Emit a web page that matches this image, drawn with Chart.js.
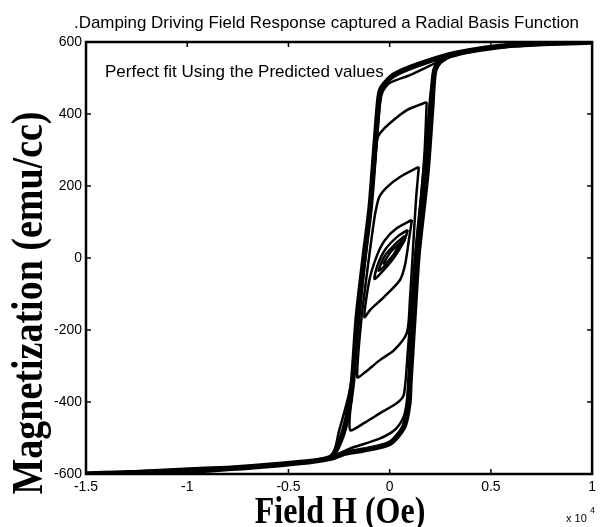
<!DOCTYPE html>
<html>
<head>
<meta charset="utf-8">
<script src="https://cdn.jsdelivr.net/npm/chart.js@4.4.1/dist/chart.umd.min.js"></script>
<style>
  html, body { margin: 0; padding: 0; background: #fff; }
  canvas { display: block; }
</style>
</head>
<body>
<canvas id="chart" width="601" height="527"></canvas>
<script>
// field H in units of 1e4 Oe, magnetization in emu/cc
const majorH = [1.0, 0.62, 0.33, 0.134, 0.02, -0.037, -0.052, -0.07, -0.096, -0.125, -0.16, -0.184, -0.21, -0.243, -0.29, -0.453, -0.7, -0.99, -1.285, -1.5,
  -0.99, -0.453, -0.29, -0.22, -0.125, 0.002, 0.07, 0.095, 0.1, 0.12, 0.14, 0.184, 0.208, 0.223, 0.267, 0.33, 0.62, 1.0];
const majorM = [600, 592, 569, 536, 508, 475, 447, 328, 142, 8, -164, -347, -442, -506, -553, -569, -581, -589, -597, -600,
  -592, -569, -556, -542, -533, -514, -469, -403, -347, -164, 8, 236, 419, 522, 558, 569, 592, 600];

const outerH = [1.0, 0.5, 0.3, 0.22, 0.1, 0.0, -0.035, -0.05, -0.075, -0.1, -0.13, -0.165, -0.2, -0.25, -0.29, -0.45, -0.8, -1.5,
  -0.8, -0.45, -0.29, -0.2, -0.05, 0.03, 0.07, 0.088, 0.105, 0.125, 0.16, 0.19, 0.205, 0.23, 0.3, 0.5, 1.0];
const outerM = [600, 586, 562, 540, 508, 486, 462, 420, 250, 100, -50, -250, -375, -480, -553, -566, -582, -598,
  -586, -567, -553, -530, -502, -475, -440, -380, -200, 0, 200, 380, 470, 530, 558, 582, 600];

const loopAH = [0.183, 0.085, 0.002, -0.047, -0.062, -0.076, -0.1, -0.125, -0.15, -0.175, -0.19, -0.195, -0.125, -0.047, 0.036, 0.07, 0.09, 0.11, 0.13, 0.154, 0.173, 0.183];
const loopAM = [433, 411, 375, 347, 328, 244, 106, -6, -117, -256, -394, -478, -458, -431, -403, -380, -256, -117, 22, 161, 300, 433];

const loopBH = [0.144, 0.051, -0.013, -0.052, -0.071, -0.086, -0.11, -0.14, -0.16, -0.125, -0.047, 0.022, 0.085, 0.1, 0.115, 0.13, 0.144];
const loopBM = [253, 225, 197, 169, 125, 69, -33, -172, -331, -319, -283, -256, -208, -117, 22, 161, 253];

const loopCH = [0.11, 0.036, -0.023, -0.062, -0.1, -0.125, -0.096, -0.027, 0.051, 0.076, 0.095, 0.11];
const loopCM = [106, 83, 50, 8, -61, -164, -144, -108, -61, -19, 50, 106];

const eye1H = [0.09, 0.04, -0.02, -0.06, -0.075, -0.04, 0.02, 0.07, 0.09];
const eye1M = [78, 60, 25, -20, -58, -40, 0, 45, 78];
const eye2H = [0.075, 0.03, -0.025, -0.055, -0.03, 0.02, 0.075];
const eye2M = [62, 40, 5, -35, -25, 10, 62];
const eye3H = [0.06, 0.01, -0.03, -0.01, 0.03, 0.06];
const eye3M = [45, 20, -15, -10, 15, 45];

const xTicks = [-1.5, -1, -0.5, 0, 0.5, 1];
const yTicks = [-600, -400, -200, 0, 200, 400, 600];

const toPoints = (hs, ms) => hs.map((h, i) => ({ x: h, y: ms[i] }));

const curves = [
  [majorH, majorM, 5.5],
  [outerH, outerM, 2.5],
  [loopAH, loopAM, 2.5],
  [loopBH, loopBM, 2.5],
  [loopCH, loopCM, 2.5],
  [eye1H, eye1M, 2.5],
  [eye2H, eye2M, 2.5],
  [eye3H, eye3M, 2.5],
];

// MATLAB-like box with inward ticks and the loose texts
const decorations = {
  id: 'decorations',
  afterDraw(chart) {
    const { ctx, chartArea: a, scales: { x, y } } = chart;
    ctx.save();
    ctx.strokeStyle = '#000';
    ctx.lineWidth = 1.5;
    ctx.beginPath();
    xTicks.forEach(v => {
      const px = x.getPixelForValue(v);
      ctx.moveTo(px, a.bottom); ctx.lineTo(px, a.bottom - 5);
      ctx.moveTo(px, a.top); ctx.lineTo(px, a.top + 5);
    });
    yTicks.forEach(v => {
      const py = y.getPixelForValue(v);
      ctx.moveTo(a.left, py); ctx.lineTo(a.left + 5, py);
      ctx.moveTo(a.right, py); ctx.lineTo(a.right - 5, py);
    });
    ctx.stroke();
    ctx.lineWidth = 2.5;
    ctx.strokeRect(a.left, a.top, a.right - a.left, a.bottom - a.top);

    ctx.fillStyle = '#000';
    ctx.textBaseline = 'alphabetic';
    ctx.textAlign = 'left';
    ctx.font = '17px "Liberation Sans"';
    ctx.fillText('.Damping Driving Field Response captured a Radial Basis Function', 74, 28, 505);
    ctx.font = '17px "Liberation Sans"';
    ctx.fillText('Perfect fit Using the Predicted values', 105, 77, 285);

    ctx.font = '11px "Liberation Sans"';
    ctx.fillText('x 10', 566, 522);
    ctx.font = '9px "Liberation Sans"';
    ctx.fillText('4', 590, 513);

    // axis titles: bold serif, slightly stretched vertically like the scan
    ctx.font = 'bold 32px "Liberation Serif"';
    ctx.textAlign = 'center';
    ctx.save();
    ctx.translate(340, 523);
    ctx.scale(1, 1.2);
    ctx.fillText('Field H (Oe)', 0, 0);
    ctx.restore();

    ctx.save();
    ctx.translate(42, 303);
    ctx.rotate(-Math.PI / 2);
    ctx.scale(1, 1.15);
    ctx.font = 'bold 38px "Liberation Serif"';
    ctx.fillText('Magnetization (emu/cc)', 0, 0, 398);
    ctx.restore();
    ctx.restore();
  }
};

new Chart(document.getElementById('chart'), {
  type: 'scatter',
  data: {
    datasets: curves.map(([hs, ms, w]) => ({
      data: toPoints(hs, ms),
      showLine: true,
      borderColor: '#000',
      borderWidth: w,
      pointRadius: 0,
      tension: 0.25,
      fill: false,
    }))
  },
  options: {
    responsive: false,
    animation: false,
    devicePixelRatio: 1,
    layout: { padding: { left: 0, right: 5, top: 42, bottom: 0 } },
    plugins: { legend: { display: false }, tooltip: { enabled: false } },
    scales: {
      x: {
        type: 'linear',
        min: -1.5,
        max: 1,
        afterBuildTicks: s => { s.ticks = xTicks.map(v => ({ value: v })); },
        afterFit: s => { s.height = 53; },
        grid: { display: false, drawTicks: false },
        border: { display: false },
        ticks: {
          color: '#000',
          padding: 5,
          maxRotation: 0,
          font: { family: 'Liberation Sans', size: 14 },
          callback: v => String(v),
        },
      },
      y: {
        min: -600,
        max: 600,
        afterBuildTicks: s => { s.ticks = yTicks.map(v => ({ value: v })); },
        afterFit: s => { s.width = 86; },
        grid: { display: false, drawTicks: false },
        border: { display: false },
        ticks: {
          color: '#000',
          padding: 4,
          font: { family: 'Liberation Sans', size: 14 },
          callback: v => String(v),
        },
      },
    },
  },
  plugins: [decorations],
});
</script>
</body>
</html>
